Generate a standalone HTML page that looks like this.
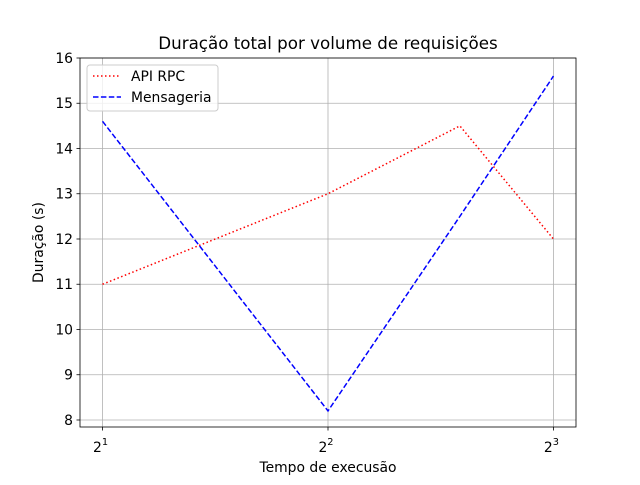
<!DOCTYPE html>
<html><head><meta charset="utf-8"><style>body{margin:0;background:#fff}svg{font-family:"DejaVu Sans","Liberation Sans",sans-serif}</style></head>
<body>
<svg id="c" width="640" height="480"></svg>
<script>
const xValues=[2,4,6,8];
const rpcValues=[11,13,14.5,12];
const msgValues=[14.6,8.2,12.5,15.6];
const yTicks=[8,9,10,11,12,13,14,15,16];
const xTicks=[1,2,3];
const L=80,R=576,T=58,B=427;
const xmin=0.9,xmax=3.1,ymin=7.845,ymax=16;
const FS=13.9;
const X=v=>L+(Math.log2(v)-xmin)/(xmax-xmin)*(R-L);
const Y=v=>B-(v-ymin)/(ymax-ymin)*(B-T);
const s=document.getElementById('c');const NS='http://www.w3.org/2000/svg';
function mk(t,a,p){const e=document.createElementNS(NS,t);for(const k in a)e.setAttribute(k,a[k]);(p||s).appendChild(e);return e;}
yTicks.forEach(v=>{const y=Y(v);
const g=mk('line',{x1:L,x2:R,y1:y,y2:y,stroke:'#b0b0b0','stroke-width':0.8});

mk('line',{x1:L-3.5,x2:L,y1:y,y2:y,stroke:'#000','stroke-width':0.8});
const t=mk('text',{x:L-7,y:y+5,'text-anchor':'end','font-size':FS});t.textContent=v;
});
xTicks.forEach(p=>{const x=X(Math.pow(2,p));
const g=mk('line',{x1:x,x2:x,y1:T,y2:B,stroke:'#b0b0b0','stroke-width':0.8});

mk('line',{x1:x,x2:x,y1:B,y2:B+3.5,stroke:'#000','stroke-width':0.8});
const t=mk('text',{x:x-2,y:B+25,'text-anchor':'middle','font-size':FS});t.textContent='2';

const sp=mk('tspan',{dy:-7,'font-size':9.8},t);sp.textContent=p;});
function series(vals,color,dash,name){const d=vals.map((v,i)=>(i?'L':'M')+X(xValues[i])+','+Y(v)).join(' ');
const p=mk('path',{d:d,fill:'none',stroke:color,'stroke-width':1.5,'stroke-dasharray':dash});
}
series(rpcValues,'red','1.5,2.5','series-api-rpc');
series(msgValues,'blue','5.5,2.4','series-mensageria');
const f=mk('rect',{x:L,y:T,width:R-L,height:B-T,fill:'none',stroke:'#000','stroke-width':0.8});

const tt=mk('text',{x:(L+R)/2,y:49,'text-anchor':'middle','font-size':16.7});tt.textContent='Duração total por volume de requisições';

const xt=mk('text',{x:(L+R)/2,y:472,'text-anchor':'middle','font-size':FS});xt.textContent='Tempo de execusão';

const yt=mk('text',{x:43,y:(T+B)/2,'text-anchor':'middle','font-size':FS,transform:`rotate(-90 43 ${(T+B)/2})`});yt.textContent='Duração (s)';

const lg=mk('g',{});
mk('rect',{x:87,y:65,width:131,height:46,rx:3,fill:'#fff','fill-opacity':0.8,stroke:'#ccc'},lg);
mk('line',{x1:93,x2:121,y1:76,y2:76,stroke:'red','stroke-width':1.5,'stroke-dasharray':'1.5,2.5'},lg);
mk('line',{x1:93,x2:121,y1:97,y2:97,stroke:'blue','stroke-width':1.5,'stroke-dasharray':'5.5,2.4'},lg);
const l1=mk('text',{x:131,y:81,'font-size':FS},lg);l1.textContent='API RPC';

const l2=mk('text',{x:131,y:102,'font-size':FS},lg);l2.textContent='Mensageria';

</script>
</body></html>
